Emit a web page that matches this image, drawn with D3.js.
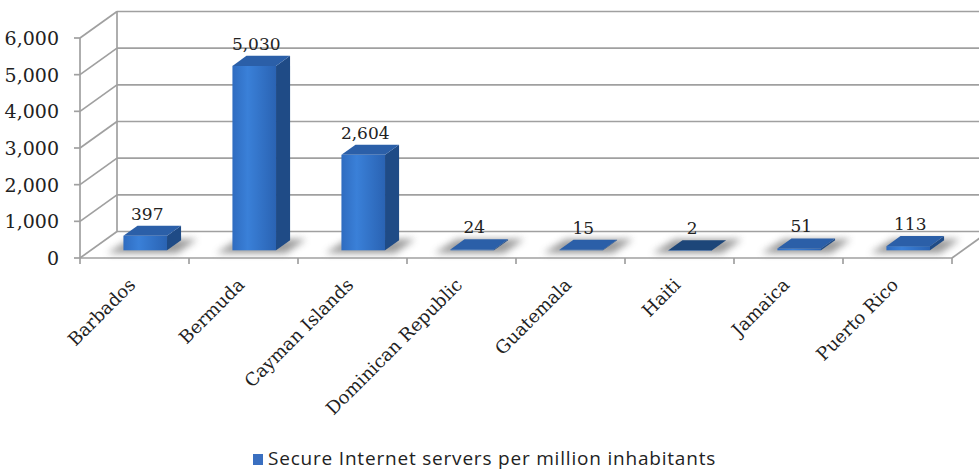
<!DOCTYPE html>
<html><head><meta charset="utf-8">
<script src="https://cdn.jsdelivr.net/npm/d3@7"></script>
<style>body{margin:0;background:#fff}svg{display:block}</style>
</head><body>
<svg id="c" width="979" height="471"></svg>
<script>
const categories = ["Barbados","Bermuda","Cayman Islands","Dominican Republic","Guatemala","Haiti","Jamaica","Puerto Rico"];
const values = [397,5030,2604,24,15,2,51,113];
const yTicks = [0,1000,2000,3000,4000,5000,6000];
const seriesName = "Secure Internet servers per million inhabitants";

const svg = d3.select("#c");
const DX = 37, DY = -26.5;           // depth vector (front -> back)
const x = d3.scaleBand().domain(categories).range([80, 952]).padding(0);
const y = d3.scaleLinear().domain([0, 6000]).range([258, 38]);
const bw = x.bandwidth();
const grid = "#a0a0a0";
const serif = "'DejaVu Serif', 'Liberation Serif', serif";

const defs = svg.append("defs");
defs.append("filter").attr("id","blur").attr("x","-50%").attr("y","-50%").attr("width","200%").attr("height","200%")
  .append("feGaussianBlur").attr("stdDeviation", 3.5);
const g1 = defs.append("linearGradient").attr("id","front").attr("x1","0").attr("x2","1").attr("y1","0").attr("y2","0");
g1.append("stop").attr("offset","0").attr("stop-color","#2f6cc0");
g1.append("stop").attr("offset","0.35").attr("stop-color","#3a80d8");
g1.append("stop").attr("offset","1").attr("stop-color","#2a63b3");

const line = (x1,y1,x2,y2) => svg.append("line").attr("x1",x1).attr("y1",y1).attr("x2",x2).attr("y2",y2)
  .attr("stroke",grid).attr("stroke-width",1.7);

// back wall gridlines + left wall diagonals
yTicks.forEach(v => {
  line(80 + DX, y(v) + DY, 979 + 20, y(v) + DY);
  line(80, y(v), 80 + DX, y(v) + DY);
  line(74, y(v), 80, y(v));
});
// back wall left edge
line(80 + DX, y(0) + DY, 80 + DX, y(6000) + DY);
// floor front edge and right diagonal
line(80, y(0), 952, y(0));
line(952, y(0), 952 + DX, y(0) + DY);
// front axis
line(80, y(0), 80, y(6000));
// category ticks at band boundaries
categories.concat([null]).forEach((c, i) => {
  const xx = 80 + i * bw;
  line(xx, y(0), xx, y(0) + 6);
});

// y labels
svg.append("g").selectAll("text").data(yTicks).join("text")
  .attr("x", 59).attr("y", d => y(d)).attr("dy","0.36em")
  .attr("text-anchor","end").attr("font-family",serif).attr("font-size",19).attr("fill","#222")
  .text(d => d3.format(",")(d));

// bars
const t0 = 0.29, t1 = 0.67;
const bars = svg.append("g");
categories.forEach((c, i) => {
  const v = values[i];
  const fx0 = x(c) + 0.3 * bw + DX * t0;
  const fx1 = fx0 + 0.4 * bw;
  const fb = y(0) + DY * t0;
  const ft = fb - (y(0) - y(v));
  const ddx = DX * (t1 - t0), ddy = DY * (t1 - t0);
  const g = bars.append("g");
  // shadow
  g.append("path").attr("d", `M${fx0-16},${fb+3} L${fx1+10},${fb+3} L${fx1+ddx+16},${fb+ddy-1} L${fx0+ddx-8},${fb+ddy-1}Z`)
    .attr("fill","#7a7a7a").attr("opacity",0.75).attr("filter","url(#blur)");
  // front
  g.append("rect").attr("x",fx0).attr("y",ft).attr("width",fx1-fx0).attr("height",Math.max(fb-ft,0.5))
    .attr("fill","url(#front)");
  // side
  g.append("path").attr("d",`M${fx1},${fb} L${fx1+ddx},${fb+ddy} L${fx1+ddx},${ft+ddy} L${fx1},${ft}Z`)
    .attr("fill","#1f4b86");
  // top
  g.append("path").attr("d",`M${fx0},${ft} L${fx1},${ft} L${fx1+ddx},${ft+ddy} L${fx0+ddx},${ft+ddy}Z`)
    .attr("fill", v < 5 ? "#1d4679" : "#2b5fa8");
  // label
  svg.append("text").attr("x",(fx0+fx1)/2 + 2).attr("y", ft + ddy - 6)
    .attr("text-anchor","middle").attr("font-family",serif).attr("font-size",17).attr("fill","#222")
    .text(d3.format(",")(v));
});

// category labels
svg.append("g").selectAll("text").data(categories).join("text")
  .attr("transform", d => `translate(${x(d) + bw/2 + 2},${286}) rotate(-45)`)
  .attr("text-anchor","end").attr("font-family",serif).attr("font-size",18).attr("fill","#222")
  .text(d => d);

// legend
svg.append("rect").attr("x",253).attr("y",454).attr("width",10).attr("height",11).attr("fill","#3a6fc0");
svg.append("text").attr("x",268).attr("y",465).attr("font-family","'Open Sans', 'Noto Sans', sans-serif")
  .attr("font-size",19).attr("letter-spacing",0.8).attr("fill","#222").text(seriesName);
</script>
</body></html>
